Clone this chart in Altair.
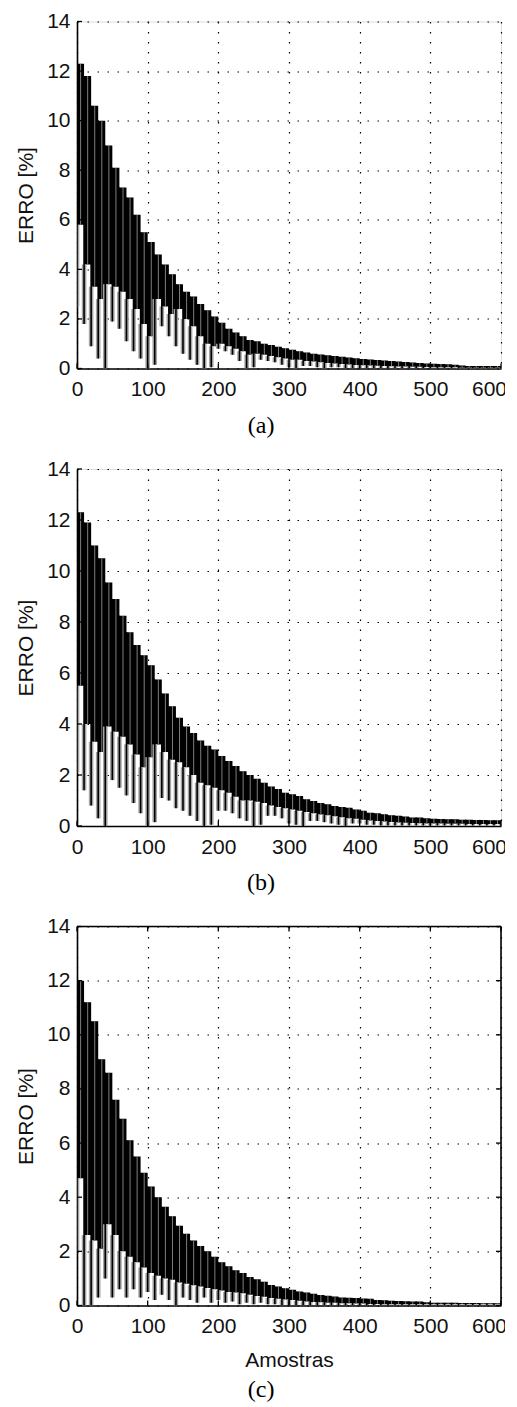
import altair as alt
import pandas as pd

SAMPLES = list(range(0, 601, 10))
X_TICKS = [0, 100, 200, 300, 400, 500, 600]
Y_TICKS = [0, 2, 4, 6, 8, 10, 12, 14]

# ---- panel (a) ----
A_TOP = [12.3, 11.8, 10.6, 10.0, 9.0, 8.1, 7.3, 6.9, 6.2, 5.5,
         5.1, 4.6, 4.2, 3.8, 3.4, 3.1, 2.9, 2.6, 2.35, 2.1,
         1.85, 1.6, 1.45, 1.3, 1.15, 1.1, 1.0, 0.95, 0.88, 0.82,
         0.76, 0.7, 0.65, 0.6, 0.56, 0.53, 0.5, 0.47, 0.44, 0.41,
         0.38, 0.36, 0.34, 0.32, 0.3, 0.28, 0.26, 0.24, 0.22, 0.2,
         0.19, 0.18, 0.17, 0.15, 0.12, 0.1, 0.1, 0.1, 0.1, 0.1, 0.1]
A_CORE = [5.8, 4.2, 3.3, 2.8, 3.4, 3.3, 3.1, 2.8, 2.4, 1.8,
          1.3, 2.8, 2.5, 2.2, 2.4, 2.0, 1.7, 1.3, 1.0, 0.9,
          1.0, 0.9, 0.8, 0.7, 0.55, 0.6, 0.55, 0.5, 0.45, 0.4,
          0.35, 0.35, 0.3, 0.28, 0.25, 0.22, 0.2, 0.18, 0.16, 0.14,
          0.13, 0.12, 0.11, 0.1, 0.09, 0.08, 0.08, 0.07, 0.07, 0.06,
          0.05, 0.05, 0.05, 0.05, 0.03, 0.03, 0.03, 0.03, 0.03, 0.03, 0.03]
A_TIP = [2.5, 1.8, 0.9, 0.4, 0.0, 1.9, 1.6, 1.1, 0.7, 0.4,
         0.0, 0.15, 1.7, 1.3, 0.9, 0.6, 0.35, 0.15, 0.0, 0.05,
         0.8, 0.7, 0.55, 0.3, 0.0, 0.05, 0.35, 0.3, 0.25, 0.15,
         0.05, 0.0, 0.1, 0.1, 0.05, 0.0, 0.05, 0.05, 0.02, 0.02,
         0.02, 0.02, 0.02, 0.02, 0.02, 0.02, 0.02, 0.02, 0.02, 0.02,
         0.02, 0.02, 0.02, 0.02, 0.0, 0.0, 0.0, 0.0, 0.0, 0.0, 0.0]

# ---- panel (b) ----
B_TOP = [12.3, 11.9, 11.0, 10.5, 9.55, 8.9, 8.25, 7.6, 7.1, 6.7,
         6.3, 5.75, 5.2, 4.7, 4.25, 3.9, 3.65, 3.35, 3.15, 3.0,
         2.75, 2.55, 2.35, 2.15, 2.0, 1.85, 1.7, 1.55, 1.45, 1.3,
         1.25, 1.18, 1.05, 0.98, 0.9, 0.85, 0.78, 0.75, 0.72, 0.65,
         0.6, 0.52, 0.5, 0.46, 0.42, 0.4, 0.37, 0.33, 0.33, 0.3,
         0.28, 0.27, 0.26, 0.26, 0.25, 0.25, 0.24, 0.24, 0.23, 0.23, 0.22]
B_CORE = [5.5, 4.0, 3.3, 2.9, 3.9, 3.7, 3.5, 3.2, 2.8, 2.3,
          2.7, 3.2, 2.9, 2.6, 2.5, 2.3, 2.0, 1.7, 1.6, 1.5,
          1.4, 1.3, 1.15, 1.0, 1.0, 0.95, 0.9, 0.8, 0.75, 0.7,
          0.65, 0.6, 0.55, 0.5, 0.45, 0.42, 0.38, 0.34, 0.3, 0.28,
          0.25, 0.22, 0.2, 0.18, 0.16, 0.14, 0.13, 0.12, 0.11, 0.1,
          0.1, 0.1, 0.09, 0.09, 0.09, 0.08, 0.08, 0.08, 0.08, 0.08, 0.08]
B_TIP = [2.1, 1.4, 0.8, 0.3, 0.0, 1.8, 1.5, 1.2, 0.9, 0.5,
         0.0, 0.15, 1.1, 1.0, 0.7, 0.6, 0.4, 0.2, 0.0, 0.05,
         0.6, 0.6, 0.5, 0.3, 0.2, 0.0, 0.05, 0.4, 0.4, 0.3,
         0.1, 0.05, 0.0, 0.2, 0.2, 0.15, 0.1, 0.05, 0.0, 0.1,
         0.1, 0.05, 0.05, 0.02, 0.02, 0.02, 0.02, 0.02, 0.02, 0.02,
         0.02, 0.02, 0.02, 0.02, 0.02, 0.02, 0.02, 0.02, 0.02, 0.02, 0.02]

# ---- panel (c) ----
C_TOP = [12.0, 11.2, 10.5, 9.1, 8.6, 7.6, 6.9, 6.1, 5.5, 4.9,
         4.4, 4.0, 3.65, 3.3, 2.95, 2.65, 2.4, 2.2, 2.0, 1.8,
         1.6, 1.45, 1.3, 1.2, 1.05, 0.97, 0.88, 0.76, 0.7, 0.64,
         0.58, 0.52, 0.48, 0.43, 0.39, 0.36, 0.33, 0.3, 0.29, 0.28,
         0.26, 0.25, 0.2, 0.19, 0.18, 0.17, 0.16, 0.15, 0.15, 0.12,
         0.1, 0.1, 0.1, 0.1, 0.09, 0.09, 0.09, 0.08, 0.08, 0.08, 0.08]
C_CORE = [4.7, 2.6, 2.4, 2.1, 3.0, 2.6, 2.0, 1.8, 1.6, 1.4,
          1.2, 1.1, 1.0, 0.95, 0.85, 0.8, 0.75, 0.7, 0.65, 0.6,
          0.55, 0.5, 0.48, 0.45, 0.4, 0.35, 0.32, 0.28, 0.25, 0.22,
          0.2, 0.18, 0.15, 0.13, 0.12, 0.1, 0.1, 0.08, 0.08, 0.07,
          0.07, 0.06, 0.06, 0.05, 0.05, 0.05, 0.05, 0.05, 0.05, 0.05,
          0.05, 0.05, 0.05, 0.05, 0.05, 0.05, 0.05, 0.05, 0.05, 0.05, 0.05]
C_TIP = [2.0, 0.0, 0.0, 0.3, 1.0, 0.3, 0.6, 0.3, 0.6, 0.3,
         0.5, 0.2, 0.4, 0.2, 0.0, 0.3, 0.2, 0.1, 0.3, 0.1,
         0.2, 0.1, 0.15, 0.05, 0.1, 0.05, 0.1, 0.05, 0.05, 0.02,
         0.02, 0.02, 0.02, 0.02, 0.02, 0.02, 0.02, 0.02, 0.02, 0.02,
         0.02, 0.02, 0.02, 0.02, 0.02, 0.02, 0.02, 0.02, 0.02, 0.02,
         0.02, 0.02, 0.02, 0.02, 0.02, 0.02, 0.02, 0.02, 0.02, 0.02, 0.02]

SANS = "Liberation Sans"
SERIF = "Liberation Serif"
LAST_LABEL_SHIFT = {"condition": {"test": "datum.value == 600", "value": -12}, "value": 0}


def panel(top, core, tip, w, h, caption, xtitle, boxed, cap_offset):
    df = pd.DataFrame({"s": SAMPLES, "top": top, "core": core, "tip": tip})
    xscale = alt.Scale(domain=[0, 600], nice=False, zero=False)
    yscale = alt.Scale(domain=[0, 14], nice=False)
    xaxis_kw = dict(values=X_TICKS, grid=True, gridDash=[1.5, 8.5],
                    gridColor="black", gridWidth=1.2, gridOpacity=1,
                    ticks=False, domainColor="black", domainWidth=1.6,
                    labelFont=SANS, labelFontSize=21, labelColor="#111",
                    labelPadding=10, labelFlush=False, labelOffset=LAST_LABEL_SHIFT)
    if xtitle:
        xaxis = alt.Axis(title=xtitle, titleFont=SANS, titleFontSize=21,
                         titleFontWeight="normal", titleColor="#111",
                         titlePadding=13, **xaxis_kw)
    else:
        xaxis = alt.Axis(title=None, **xaxis_kw)
    yaxis = alt.Axis(values=Y_TICKS, grid=True, gridDash=[1.5, 8.5],
                     gridColor="black", gridWidth=1.2, gridOpacity=1,
                     ticks=False, domainColor="black", domainWidth=1.6,
                     labelFont=SANS, labelFontSize=21, labelColor="#111",
                     labelPadding=7, labelFlush=False,
                     title="ERRO [%]", titleFont=SANS, titleFontSize=21,
                     titleFontWeight="normal", titleColor="#111", titlePadding=10)
    X = lambda f: alt.X(f, type="quantitative", scale=xscale, axis=xaxis)
    Y = lambda f: alt.Y(f, type="quantitative", scale=yscale, axis=yaxis)

    area = alt.Chart(df).mark_area(interpolate="step-after", color="black", clip=True).encode(
        x=X("s"), y=Y("top"), y2="core")
    halo = alt.Chart(df).mark_rule(color="#a4a4a4", strokeWidth=4.6, clip=True).encode(
        x=X("s"), y=Y("tip"), y2="core")
    stripe = alt.Chart(df).mark_rule(color="#8c8c8c", strokeWidth=0.9, xOffset=3.6,
                                     clip=True).encode(
        x=X("s"), y=Y("core"), y2="top")
    spike = alt.Chart(df).mark_rule(color="black", strokeWidth=1.6, clip=True).encode(
        x=X("s"), y=Y("tip"), y2="top")

    xt = pd.DataFrame({"v": X_TICKS})
    yt = pd.DataFrame({"v": Y_TICKS})
    tl = alt.Chart(yt).mark_rule(color="black", strokeWidth=1.3).encode(
        y=Y("v"), x=alt.value(0), x2=alt.value(5))
    tb = alt.Chart(xt).mark_rule(color="black", strokeWidth=1.3).encode(
        x=X("v"), y=alt.value(h), y2=alt.value(h - 5))
    layers = [area, halo, stripe, spike, tl, tb]
    if boxed:
        tr = alt.Chart(yt).mark_rule(color="black", strokeWidth=1.3).encode(
            y=Y("v"), x=alt.value(w), x2=alt.value(w - 5))
        tt = alt.Chart(xt).mark_rule(color="black", strokeWidth=1.3).encode(
            x=X("v"), y=alt.value(0), y2=alt.value(5))
        one = pd.DataFrame({"k": [0]})
        box_top = alt.Chart(one).mark_rule(color="black", strokeWidth=1.6).encode(
            x=alt.value(0), x2=alt.value(w), y=alt.value(0))
        box_right = alt.Chart(one).mark_rule(color="black", strokeWidth=1.6).encode(
            x=alt.value(w), y=alt.value(0), y2=alt.value(h))
        layers += [tr, tt, box_top, box_right]
    ch = alt.layer(*layers).properties(
        width=w, height=h,
        title=alt.TitleParams(caption, orient="bottom", anchor="middle", frame="bounds",
                              font=SERIF, fontSize=24, fontWeight="normal",
                              color="black", offset=cap_offset),
    )
    return ch


pa = panel(A_TOP, A_CORE, A_TIP, 424, 347, "(a)", None, False, 14)
pb = panel(B_TOP, B_CORE, B_TIP, 424, 357, "(b)", None, False, 14)
pc = panel(C_TOP, C_CORE, C_TIP, 424, 379, "(c)", "Amostras", True, 7)

chart = alt.vconcat(pa, pb, pc, spacing=18.5).properties(
    padding={"left": 7, "top": 1.5, "right": -3, "bottom": 0}
).configure_view(stroke=None).configure(background="white")

chart.save("out.html", embed_options={"renderer": "svg", "actions": False})
